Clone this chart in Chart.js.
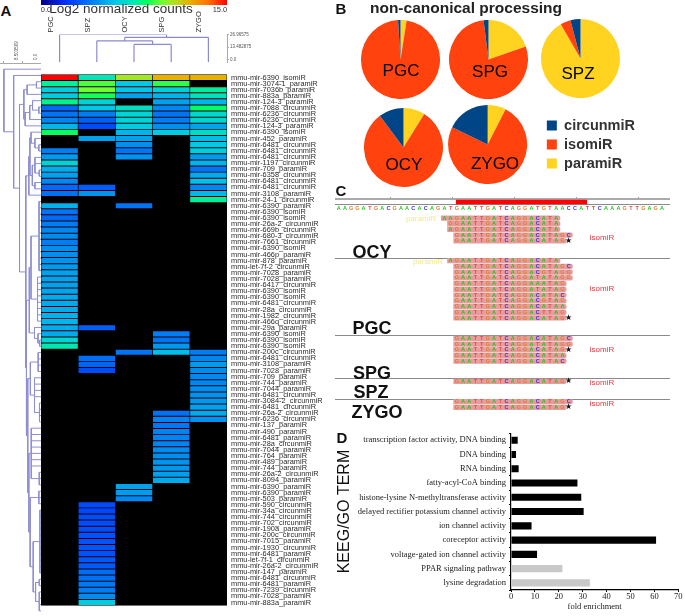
<!DOCTYPE html>
<html>
<head>
<meta charset="utf-8">
<title>miRNA figure</title>
<script src="https://cdn.jsdelivr.net/npm/chart.js@4"></script>
<style>
  html, body { margin: 0; background: #fff; }
  #page { position: relative; width: 685px; height: 616px; overflow: hidden; font-family: "Liberation Sans", sans-serif; color: #111; }
  #page canvas { position: absolute; }
  .txt { position: absolute; z-index: 5; white-space: nowrap; transform: translate(-50%, -50%); line-height: 1; }
  .letter { font-weight: bold; font-size: 15px; }
  .pieName { font-size: 17px; color: #000; }
  .track { font-weight: bold; font-size: 18px; color: #111; }
  .para { font-size: 8px; color: #efe98f; }
  .iso { font-size: 8px; color: #e8343c; }
  #colorbar { position: absolute; left: 41px; top: 0; width: 186px; height: 5px; }
</style>
</head>
<body>
<div id="page">
  <div id="colorbar"></div>
  <span class="txt letter" style="left:6px;top:10px">A</span>
  <span class="txt" style="left:121px;top:9px;font-size:13.5px;color:#333">Log2 normalized counts</span>
  <span class="txt" style="left:46px;top:10px;font-size:7.5px;color:#333">0.0</span>
  <span class="txt" style="left:220px;top:10px;font-size:7.5px;color:#333">15.0</span>

  <span class="txt letter" style="left:341px;top:8px">B</span>
  <span class="txt" style="left:466px;top:8px;font-size:15.5px;font-weight:bold;color:#222">non-canonical processing</span>
  <span class="txt pieName" style="left:401px;top:70px">PGC</span>
  <span class="txt pieName" style="left:490px;top:71px">SPG</span>
  <span class="txt pieName" style="left:578px;top:73px">SPZ</span>
  <span class="txt pieName" style="left:404px;top:164px">OCY</span>
  <span class="txt pieName" style="left:495px;top:163px">ZYGO</span>

  <span class="txt letter" style="left:341px;top:190px">C</span>
  <span class="txt track" style="left:372px;top:252px">OCY</span>
  <span class="txt track" style="left:372px;top:328px">PGC</span>
  <span class="txt track" style="left:372px;top:373px">SPG</span>
  <span class="txt track" style="left:371px;top:392px">SPZ</span>
  <span class="txt track" style="left:377px;top:412px">ZYGO</span>
  <span class="txt para" style="left:421px;top:219px">paramiR</span>
  <span class="txt para" style="left:428px;top:262px">paramiR</span>
  <span class="txt iso" style="left:602px;top:238px">isomiR</span>
  <span class="txt iso" style="left:602px;top:289px">isomiR</span>
  <span class="txt iso" style="left:602px;top:350px">isomiR</span>
  <span class="txt iso" style="left:602px;top:383px">isomiR</span>
  <span class="txt iso" style="left:602px;top:404px">isomiR</span>

  <span class="txt letter" style="left:342px;top:437px">D</span>

  <canvas id="heatmap" width="289" height="548" style="left:41px;top:66px"></canvas>
  <canvas id="colTree" width="221" height="56" style="left:41px;top:10px"></canvas>
  <canvas id="rowTree" width="41" height="584" style="left:0;top:30px"></canvas>
  <canvas id="piePGC" width="79" height="79" style="left:361px;top:20px"></canvas>
  <canvas id="pieSPG" width="79" height="79" style="left:449px;top:20px"></canvas>
  <canvas id="pieSPZ" width="79" height="79" style="left:541px;top:19px"></canvas>
  <canvas id="pieOCY" width="79" height="79" style="left:364px;top:108px"></canvas>
  <canvas id="pieZYGO" width="212" height="79" style="left:433px;top:105px"></canvas>
  <canvas id="reads" width="335" height="217" style="left:335px;top:195px"></canvas>
  <canvas id="terms" width="350" height="187" style="left:335px;top:425px"></canvas>
</div>

<script>
Chart.defaults.animation = false;
Chart.defaults.font.family = '"Liberation Sans", sans-serif';

// Heatmap: one array per sample, 87 rows, _ = no counts (black cell)
const _ = null;
const sampleNames = ['PGC', 'SPZ', 'OCY', 'SPG', 'ZYGO'];
const rowLabels = [
  'mmu-mir-6390_isomiR', 'mmu-mir-3074-1_paramiR', 'mmu-mir-7036b_paramiR', 'mmu-mir-883a_paramiR', 'mmu-mir-124-3_paramiR',
  'mmu-mir-7088_circunmiR', 'mmu-mir-6236_circunmiR', 'mmu-mir-6236_circunmiR', 'mmu-mir-124-3_paramiR', 'mmu-mir-6390_isomiR',
  'mmu-mir-452_paramiR', 'mmu-mir-6481_circunmiR', 'mmu-mir-6481_circunmiR', 'mmu-mir-6481_circunmiR', 'mmu-mir-1197_circunmiR',
  'mmu-mir-709_paramiR', 'mmu-mir-6358_circunmiR', 'mmu-mir-6481_circunmiR', 'mmu-mir-6481_circunmiR', 'mmu-mir-3108_paramiR',
  'mmu-mir-24-1_circunmiR', 'mmu-mir-6390_paramiR', 'mmu-mir-6390_isomiR', 'mmu-mir-6390_isomiR', 'mmu-mir-26a-2_circunmiR',
  'mmu-mir-669b_circunmiR', 'mmu-mir-680-3_circunmiR', 'mmu-mir-7661_circunmiR', 'mmu-mir-6390_isomiR', 'mmu-mir-466p_paramiR',
  'mmu-mir-878_paramiR', 'mmu-let-7f-2_circunmiR', 'mmu-mir-7028_paramiR', 'mmu-mir-7028_paramiR', 'mmu-mir-6417_circunmiR',
  'mmu-mir-6390_isomiR', 'mmu-mir-6390_isomiR', 'mmu-mir-6481_circunmiR', 'mmu-mir-28a_circunmiR', 'mmu-mir-1982_circunmiR',
  'mmu-mir-466q_circunmiR', 'mmu-mir-29a_paramiR', 'mmu-mir-6390_isomiR', 'mmu-mir-6390_isomiR', 'mmu-mir-6390_isomiR',
  'mmu-mir-200c_circunmiR', 'mmu-mir-6481_circunmiR', 'mmu-mir-3108_paramiR', 'mmu-mir-7028_paramiR', 'mmu-mir-709_paramiR',
  'mmu-mir-744_paramiR', 'mmu-mir-7044_paramiR', 'mmu-mir-6481_circunmiR', 'mmu-mir-3084-2_circunmiR', 'mmu-mir-6481_circunmiR',
  'mmu-mir-26a-2_circunmiR', 'mmu-mir-6236_circunmiR', 'mmu-mir-137_paramiR', 'mmu-mir-490_paramiR', 'mmu-mir-6481_paramiR',
  'mmu-mir-28a_circunmiR', 'mmu-mir-7044_paramiR', 'mmu-mir-764_paramiR', 'mmu-mir-489_paramiR', 'mmu-mir-744_paramiR',
  'mmu-mir-26a-2_circunmiR', 'mmu-mir-8094_paramiR', 'mmu-mir-6390_paramiR', 'mmu-mir-6390_paramiR', 'mmu-mir-503_paramiR',
  'mmu-mir-590_circunmiR', 'mmu-mir-34a_circunmiR', 'mmu-mir-744_circunmiR', 'mmu-mir-702_circunmiR', 'mmu-mir-190a_paramiR',
  'mmu-mir-200c_circunmiR', 'mmu-mir-7015_paramiR', 'mmu-mir-1930_circunmiR', 'mmu-mir-6481_paramiR', 'mmu-let-7f-1_circunmiR',
  'mmu-mir-26a-2_circunmiR', 'mmu-mir-147_paramiR', 'mmu-mir-6481_circunmiR', 'mmu-mir-6481_paramiR', 'mmu-mir-7239_circunmiR',
  'mmu-mir-7028_paramiR', 'mmu-mir-883a_paramiR'
];
const countsPGC = [15,7.8,6.3,6.2,8,3.5,3.8,4.2,5.5,8.6, _,_,4,4.8,6.5,5.3,5,4.3,3.5,3.7,_,5.4,
  3.8,3.5,4,4.3,4.4,4,4.5,4.5,4.6,4.8,5,5,5,5.1,5.2,5.2,5.3,5.4,5.5,5.3,5.2,6.6,7.5,
  _,_,_,_,_,_,_,_,_,_,_,_,_,_,_,_,_,_,_,_,_,_,_,_,_,_,_,_,_,_,_,_,_,_,_,_,_,_,_,_,_,_];
const countsSPZ = [7.4,9.3,9.7,8.7,6.5,6,4,3.3,2.7,_, 5,_,_,_,_,_,_,_,3.2,4.6,
  _,_,_,_,_,_,_,_,_,_,_,_,_,_,_,_,_,_,_,_,_, 3.2,_,_,_,_, 3.6,3.4,2.7,
  _,_,_,_,_,_,_,_,_,_,_,_,_,_,_,_,_,_,_,_,_,
  2.7,2.6,2.8,2.8,2.8,2.9,2.9,3,2.9,3.1,3.1,3.6,3.7,3.9,4,4.4,6.2];
const countsOCY = [10.5,6,6,5,_,7,6.5,6.5,6.2,5.5, 5,4.5,3.8,4.6, _,_,_,_,_,_,_, 3.8,
  _,_,_,_,_,_,_,_,_,_,_,_,_,_,_,_,_,_,_,_,_,_,_, 3.8,
  _,_,_,_,_,_,_,_,_,_,_,_,_,_,_,_,_,_,_,_,_, 5,4.8,4.3,
  _,_,_,_,_,_,_,_,_,_,_,_,_,_,_,_,_];
const countsSPG = [12,9,6.4,5.5,5,4.3,3.8,4,4.5,6.2,
  _,_,_,_,_,_,_,_,_,_,_,_,_,_,_,_,_,_,_,_,_,_,_,_,_,_,_,_,_,_,_,_,
  4,3.8,4.7,5.7, _,_,_,_,_,_,_,_,_,
  3.7,4.2,3.9,4.2,4.2,4.2,4.4,4.5,4.6,4.7,4.9,5.2,
  _,_,_,_,_,_,_,_,_,_,_,_,_,_,_,_,_,_,_,_];
const countsZYGO = [12,_,7.7,7.2,5.5,8.4,6.7,6.7,5,7, 5.7,6,6.3,4.8,5.5,3.8,5.2,5.8,4.3,5.6,7.8,
  _,_,_,_,_,_,_,_,_,_,_,_,_,_,_,_,_,_,_,_,_,_,_,_, 4,
  4.3,4.8,4.4,4.3,4.3,4.5,4.6,4.7,5,5.2,4.6,
  _,_,_,_,_,_,_,_,_,_,_,_,_,_,_,_,_,_,_,_,_,_,_,_,_,_,_,_,_,_];
const heatColumns = [countsPGC, countsSPZ, countsOCY, countsSPG, countsZYGO];

// colour scale of the heatmap: [log2 count, r, g, b]
const colorStops = [
  [0, 0, 0, 128], [2, 0, 48, 255], [6, 0, 200, 232], [7.5, 0, 232, 176], [8.5, 0, 255, 96],
  [9.7, 112, 255, 48], [10.7, 176, 224, 32], [12, 232, 176, 0], [13.5, 255, 112, 0], [15, 255, 0, 0]
];

// Clustering trees: [height, child, child, ...], a plain number is a leaf
const colTreeNodes = [26.97, 0, [24, [20.3, 1, [16.5, 2, 3]], 4]];
const colScaleTicks = [0, 13.482875, 26.96575];
const rowScaleTicks = [0, 8.503569, 17.087137];
const rowTreeNodes = [17.1, 1, [12.6, 2, [9.9,
  [7.9, [6.4, [2.1, 3, 4], 5], [7.3, [5.2, [3.9, 6, [1, 7, 8]], 9], 10]],
  [7.0,
    [5.6, [5.1, [4.6, 11, [2.8, 12, [1, 13, 14]]], [4, [2.8, 15, 16, [0.8, 17, 18]], [2.8, 19, 20]]], 21],
    [6.7,
      [5.4,
        [4.6, [0.9, 22, 23, 24, 25, 26, 27, 28, 29, 30, 31, 32, 33], [1.6, 34, 35, 36, 37, 38, 39, 40, 41]],
        [3, 42, [1.4, 43, [0.6, 44, 45]]]],
      [6.1,
        [4.9, [1.3, 46, 47, 48, 49], [3, 50, 51, 52, 53, [0.7, 54, 55, 56, 57]]],
        [5.6,
          [4.5, 58, 59, 60, 61, 62, 63, 64, [0.8, 65, 66, 67]],
          [5, [1, 68, 69, 70], [3.6, [0.5, 71, 72, 73, 74, 75, 76, 77, 78, 79, 80, 81],
            [2.5, [0.8, 82, 83], [0.8, 84, 85, 86, 87]]]]]]]]]]];

// Pie shares in percent, clockwise from 12 o'clock
const pieClasses = ['paramiR', 'isomiR', 'circunmiR'];
const pieColors = ['#ffd320', '#ff420e', '#004586'];
const sharesPGC = [2.5, 96.5, 1];
const sharesSPG = [19.7, 78.3, 2];
const sharesSPZ = [91.7, 4.2, 4.1];
const sharesOCY = [8.8, 81, 10.2];
const sharesZYGO = [7.5, 74.7, 17.8];

// Alignment tracks: row on the track axis, first base, read (* = marked read)
const refSequence = 'AAGGATGACGAACACAGATGAATTGATCAGGATGTAACCATTCAAAGTTGAGA';
const matureRange = [18.9, 39.9];
const readRows = [0, 1, 2, 3, 4,
  7.45, 8.45, 9.45, 10.45, 11.45, 12.45, 13.45, 14.45, 15.45, 16.45, 17.45,
  21, 22, 23, 24, 25, 28.5, 32.06, 33.06];
const readStarts = [17, 18, 18, 19, 19,
  18, 19, 19, 19, 19, 19, 19, 19, 19, 19, 19,
  19, 19, 19, 19, 19, 19, 19, 19];
const readSeqs = [
  'AAGAATTGATCAGGACATA', 'GGAATTGATCAGGACATA', 'AGAATTGATCAGGACATA', 'GAATTGATCAGGACATAGC', 'GAATTGATCAGGACATAG*',
  'AGAATTGATCAGGACATA', 'GAATTGATCAGGACATAGC', 'GAATTGATCAGGACGTAGG', 'GAATTGATCAGGATATAGG', 'GAATTGATCAGGAAATAG',
  'GAATTGATCAGGATATAG', 'GAATTGATCAGGACATAC', 'GAATTGATCAGGACGTAG', 'GAATTGATCAGGACATAA', 'GAATTGATCAGGACTTAG', 'GAATTGATCAGGACATAG*',
  'GAATTGATCAGGACATAGC', 'GAATTGATCAGGATATAGG', 'GAATTGATCAGGACATAG*', 'GAATTGATCAGGACATAA', 'GAATTGATCAGGACATAC',
  'GAATTGATCAGGACATAG*',
  'GAATTGATCAGGACATAGC', 'GAATTGATCAGGACATAG*'
];
const baseColors = { A: '#22c422', T: '#e2504a', G: '#d4822e', C: '#3a36e0' };
const trackLines = [-2.36, 7.03, 20.54, 28.04, 31.64];
const rulerTicks = [8.3, 18.3, 28.3, 38.3, 48.3];

// Enrichment bars
const termNames = [
  'transcription factor activity, DNA binding', 'DNA binding', 'RNA binding', 'fatty-acyl-CoA binding',
  'histone-lysine N-methyltransferase activity', 'delayed rectifier potassium channel activity', 'ion channel activity',
  'coreceptor activity', 'voltage-gated ion channel activity', 'PPAR signaling pathway', 'lysine degradation'
];
const foldEnrichment = [2.8, 2.1, 3.2, 27.8, 29.4, 30.4, 8.6, 60.7, 10.9, 21.5, 33];
const termColors = ['#000', '#000', '#000', '#000', '#000', '#000', '#000', '#000', '#000', '#c9c9c9', '#c9c9c9'];

function count_color(v) {
  var i = 1;
  while (i < colorStops.length - 1 && v > colorStops[i][0]) i++;
  var a = colorStops[i - 1], b = colorStops[i];
  var t = (v - a[0]) / (b[0] - a[0]);
  var mix = function (k) { return Math.round(a[k] + (b[k] - a[k]) * t); };
  return 'rgb(' + mix(1) + ',' + mix(2) + ',' + mix(3) + ')';
}

function draw_colorbar() {
  var parts = colorStops.map(function (s) {
    return count_color(s[0]) + ' ' + (s[0] / 15 * 100) + '%';
  });
  document.getElementById('colorbar').style.background = 'linear-gradient(to right,' + parts.join(',') + ')';
}

function draw_heatmap() {
  var datasets = heatColumns.map(function (col, c) {
    return {
      label: sampleNames[c],
      grouped: false,
      barPercentage: 0.84,
      categoryPercentage: 1,
      data: col.map(function (v) { return v === null ? null : [c + 0.01, c + 0.99]; }),
      backgroundColor: col.map(function (v) { return v === null ? '#000' : count_color(v); })
    };
  });
  new Chart(document.getElementById('heatmap'), {
    type: 'bar',
    data: { labels: rowLabels, datasets: datasets },
    options: {
      indexAxis: 'y',
      responsive: false,
      plugins: { legend: { display: false }, tooltip: { enabled: false } },
      scales: {
        x: { display: false, min: 0, max: 5 },
        y: {
          position: 'right',
          afterFit: function (s) { s.width = 103; },
          grid: { display: false, drawTicks: false },
          border: { display: false },
          ticks: { autoSkip: false, padding: 4, font: { size: 7.4 }, color: '#2a2a2a' }
        }
      }
    },
    plugins: [{
      id: 'naBackground',
      beforeDatasetsDraw: function (chart) {
        var a = chart.chartArea;
        chart.ctx.fillStyle = '#000';
        chart.ctx.fillRect(a.left, a.top, a.right - a.left, a.bottom - a.top);
      }
    }]
  });
}

// walks a tree and returns its line pieces as {pos, height} points, NaN between pieces
function tree_points(node, leafHeight, out) {
  if (typeof node === 'number') return { pos: node, h: leafHeight };
  var kids = node.slice(1).map(function (k) { return tree_points(k, leafHeight, out); });
  kids.forEach(function (k) {
    out.push({ pos: k.pos, h: k.h }, { pos: k.pos, h: node[0] }, { pos: NaN, h: NaN });
  });
  var first = kids[0].pos, last = kids[kids.length - 1].pos;
  out.push({ pos: first, h: node[0] }, { pos: last, h: node[0] }, { pos: NaN, h: NaN });
  return { pos: (first + last) / 2, h: node[0] };
}

function draw_col_tree() {
  var pts = [];
  tree_points(colTreeNodes, -2.5, pts);
  new Chart(document.getElementById('colTree'), {
    type: 'scatter',
    data: { datasets: [{
      data: pts.map(function (p) { return { x: p.pos, y: p.h }; }),
      showLine: true, pointRadius: 0, borderColor: '#8b8bcf', borderWidth: 1.2
    }] },
    options: {
      responsive: false,
      plugins: { legend: { display: false }, tooltip: { enabled: false } },
      scales: {
        x: {
          position: 'top', min: -0.5, max: 4.5,
          afterBuildTicks: function (s) { s.ticks = sampleNames.map(function (n, i) { return { value: i }; }); },
          afterFit: function (s) { s.height = 24.5; },
          grid: { display: false, drawTicks: false }, border: { display: false },
          ticks: {
            autoSkip: false, minRotation: 90, maxRotation: 90, padding: 2,
            font: { size: 7.5 }, color: '#333',
            callback: function (v) { return sampleNames[v]; }
          }
        },
        y: {
          position: 'right', min: -2.5, max: 26.97,
          afterBuildTicks: function (s) { s.ticks = colScaleTicks.map(function (v) { return { value: v }; }); },
          afterFit: function (s) { s.width = 35; },
          grid: { drawOnChartArea: false, color: '#aaa', tickLength: 2 },
          border: { color: '#aaa' },
          ticks: { padding: 1, font: { size: 4.5 }, color: '#555', callback: function (v) { return v === 0 ? '0.0' : String(v); } }
        }
      }
    }
  });
}

function draw_row_tree() {
  var pts = [];
  tree_points(rowTreeNodes, 0, pts);
  new Chart(document.getElementById('rowTree'), {
    type: 'scatter',
    data: { datasets: [{
      data: pts.map(function (p) { return { x: p.h, y: p.pos }; }),
      showLine: true, pointRadius: 0, borderColor: '#8e8ed2', borderWidth: 1
    }] },
    options: {
      responsive: false,
      plugins: { legend: { display: false }, tooltip: { enabled: false } },
      scales: {
        x: {
          position: 'top', reverse: true, min: 0, max: 18.9,
          afterBuildTicks: function (s) { s.ticks = rowScaleTicks.map(function (v) { return { value: v }; }); },
          afterFit: function (s) { s.height = 33; },
          grid: { drawOnChartArea: false, color: '#aaa', tickLength: 2 },
          border: { color: '#aaa' },
          ticks: {
            autoSkip: false, minRotation: 90, maxRotation: 90, padding: 1,
            font: { size: 4.5 }, color: '#555',
            callback: function (v) { return v === 0 ? '0.0' : String(v); }
          }
        },
        y: { display: false, reverse: true, min: 0.02, max: 87.5 }
      }
    }
  });
}

function draw_pie(id, shares, withLegend) {
  new Chart(document.getElementById(id), {
    type: 'pie',
    data: { labels: pieClasses, datasets: [{ data: shares, backgroundColor: pieColors, borderWidth: 0 }] },
    options: {
      responsive: false,
      layout: { padding: 0 },
      plugins: {
        tooltip: { enabled: false },
        legend: {
          display: withLegend,
          position: 'right',
          reverse: true,
          labels: { boxWidth: 10, boxHeight: 10, padding: 4.5, color: '#333', font: { size: 14.5, weight: 'bold' } }
        }
      }
    }
  });
}

function draw_reads() {
  var bars = readRows.map(function (r, i) {
    var n = readSeqs[i].replace('*', '').length;
    return { x: [readStarts[i] - 0.5, readStarts[i] + n - 0.4], y: r };
  });
  new Chart(document.getElementById('reads'), {
    type: 'bar',
    data: { datasets: [
      { data: bars, backgroundColor: '#e99c9c', barThickness: 4.6, grouped: false,
        borderRadius: { topRight: 2, bottomRight: 2 }, borderSkipped: false },
      { data: [{ x: matureRange, y: -2.79 }], backgroundColor: '#f00', barThickness: 4, grouped: false }
    ] },
    options: {
      indexAxis: 'y',
      responsive: false,
      plugins: { legend: { display: false }, tooltip: { enabled: false } },
      scales: {
        x: {
          type: 'linear', position: 'top', min: -0.6, max: 53.3,
          afterBuildTicks: function (s) { s.ticks = rulerTicks.map(function (v) { return { value: v }; }); },
          afterFit: function (s) { s.height = 4; },
          grid: { drawOnChartArea: false, color: '#999', tickLength: 2 },
          border: { color: '#aaa', width: 2 },
          ticks: { display: false }
        },
        y: {
          type: 'linear', reverse: true, min: -3.32, max: 33.86, offset: false,
          afterBuildTicks: function (s) { s.ticks = trackLines.map(function (v) { return { value: v }; }); },
          afterFit: function (s) { s.width = 0; },
          grid: { color: '#8a8a8a', lineWidth: 1, drawTicks: false, offset: false },
          border: { display: false },
          ticks: { display: false }
        }
      }
    },
    plugins: [{
      id: 'baseLetters',
      afterDatasetsDraw: function (chart) {
        var ctx = chart.ctx, xs = chart.scales.x, ys = chart.scales.y;
        var put = function (seq, start, row) {
          seq.split('').forEach(function (b, i) {
            if (b === '*') {
              ctx.fillStyle = '#111';
              ctx.font = '8px "DejaVu Sans"';
              ctx.fillText('\u2605', xs.getPixelForValue(start + i), ys.getPixelForValue(row));
            } else {
              ctx.fillStyle = baseColors[b];
              ctx.font = 'bold 5.5px "Liberation Sans"';
              ctx.fillText(b, xs.getPixelForValue(start + i), ys.getPixelForValue(row));
            }
          });
        };
        ctx.save();
        ctx.textAlign = 'center';
        ctx.textBaseline = 'middle';
        put(refSequence, 0, -1.62);
        readSeqs.forEach(function (s, i) { put(s, readStarts[i], readRows[i]); });
        ctx.restore();
      }
    }]
  });
}

function draw_terms() {
  var serif = '"Liberation Serif", serif';
  new Chart(document.getElementById('terms'), {
    type: 'bar',
    data: { labels: termNames, datasets: [{
      data: foldEnrichment, backgroundColor: termColors, barPercentage: 0.5, categoryPercentage: 1
    }] },
    options: {
      indexAxis: 'y',
      responsive: false,
      layout: { padding: { top: 6, right: 6.7 } },
      plugins: { legend: { display: false }, tooltip: { enabled: false } },
      scales: {
        x: {
          min: 0, max: 70,
          afterFit: function (s) { s.height = 22; },
          grid: { drawOnChartArea: false, color: '#000', tickLength: 2 },
          border: { color: '#000', width: 1.2 },
          ticks: { stepSize: 10, padding: 0, font: { family: serif, size: 8.5 }, color: '#222' },
          title: { display: true, text: 'fold enrichment', padding: 0, font: { family: serif, size: 8.5 }, color: '#222' }
        },
        y: {
          afterFit: function (s) { s.width = 176; },
          grid: { drawOnChartArea: false, color: '#000', tickLength: 2, offset: true },
          border: { color: '#000', width: 1.2 },
          ticks: { autoSkip: false, padding: 3, font: { family: serif, size: 8.5 }, color: '#222' },
          title: { display: true, text: 'KEEG/GO TERM', padding: 0, font: { size: 16 }, color: '#111' }
        }
      }
    }
  });
}

draw_colorbar();
draw_heatmap();
draw_col_tree();
draw_row_tree();
draw_pie('piePGC', sharesPGC, false);
draw_pie('pieSPG', sharesSPG, false);
draw_pie('pieSPZ', sharesSPZ, false);
draw_pie('pieOCY', sharesOCY, false);
draw_pie('pieZYGO', sharesZYGO, true);
draw_reads();
draw_terms();
</script>
</body>
</html>
